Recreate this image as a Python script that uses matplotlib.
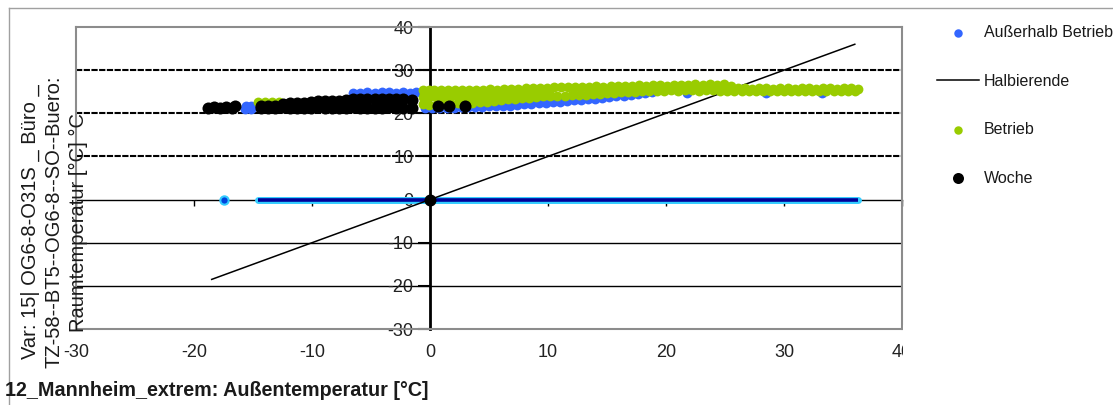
import matplotlib
matplotlib.use("Agg")
import matplotlib.pyplot as plt
from matplotlib.lines import Line2D
from matplotlib.patches import Rectangle

plt.rcParams['font.family'] = ['Liberation Sans', 'DejaVu Sans']
plt.rcParams['axes.unicode_minus'] = False

# ---------------- data ----------------
x_ticks = [-30, -20, -10, 0, 10, 20, 30, 40]
y_ticks = [-30, -20, -10, 0, 10, 20, 30, 40]
x_label = "12_Mannheim_extrem: Außentemperatur [°C]"
y_label = "Var: 15| OG6-8-O31S _ Büro _\nTZ-58--BT5--OG6-8--SO--Buero:\nRaumtemperatur [°C] °C"
labels = ["Außerhalb Betrieb", "Halbierende", "Betrieb", "Woche"]

# Außerhalb Betrieb (blue)
aussen_x = [-15.7, -15.2, -15.6, -15.2,
            -6.5, -5.9, -5.3, -4.7, -4.1, -3.5, -2.9, -2.3, -1.7, -1.2,
            -0.4, 0.2, 0.8, 1.4, 2.0, 2.6, 3.2, 3.8, 4.4, 5.0, 5.6, 6.2, 6.8, 7.4,
            8.0, 8.6, 9.2, 9.8, 10.4, 11.0, 11.6, 12.2, 12.8, 13.4, 14.0, 14.6,
            15.2, 15.8, 16.4, 17.0, 17.6, 18.2, 18.8,
            21.8, 28.5, 33.2]
aussen_y = [21.1, 21.0, 21.7, 21.7,
            24.8, 24.8, 24.9, 24.8, 24.9, 24.9, 24.8, 24.9, 24.8, 24.9,
            21.2, 21.2, 21.2, 21.3, 21.3, 21.4, 21.4, 21.5, 21.5, 21.6, 21.7, 21.7, 21.8, 21.9,
            22.1, 22.2, 22.3, 22.5, 22.6, 22.7, 22.9, 23.0, 23.1, 23.3, 23.4, 23.6,
            23.7, 23.9, 24.1, 24.3, 24.5, 24.7, 24.9,
            24.6, 24.6, 24.7]
# Außerhalb Betrieb values read as 0 (drawn as a thick run on the zero line)
aussen_zero_single_x = [-17.5]
aussen_zero_run_x = [-14.6, 36.3]

# Halbierende (bisector)
halb_x = [-18.5, 36.0]
halb_y = [-18.5, 36.0]

# Betrieb (green)
betrieb_x = [-14.6, -14.0, -13.4, -12.8,
             -0.6, -0.6, -0.6, -0.1, -0.1, -0.1,
             # upper edge
             0.3, 0.9, 1.5, 2.1, 2.7, 3.3, 3.9, 4.5, 5.1, 5.7, 6.3, 6.9, 7.5, 8.1, 8.7,
             9.3, 9.9, 10.5, 11.1, 11.7, 12.3, 12.9, 13.5, 14.1, 14.7, 15.3, 15.9, 16.5,
             17.1, 17.7, 18.3, 18.9, 19.5, 20.1, 20.7, 21.3, 21.9, 22.5, 23.1, 23.7, 24.3,
             24.9, 25.5, 26.1, 26.7, 27.3, 27.9, 28.5, 29.1, 29.7, 30.3, 30.9, 31.5, 32.1,
             32.7, 33.3, 33.9, 34.5, 35.1, 35.7, 36.3,
             # lower edge
             0.6, 1.2, 1.8, 2.4, 3.0, 3.6, 4.2, 4.8, 5.4, 6.0, 6.6, 7.2, 7.8, 8.4, 9.0,
             9.6, 10.2, 10.8, 11.4, 12.0, 12.6, 13.2, 13.8, 14.4, 15.0, 15.6, 16.2, 16.8,
             17.4, 18.0, 18.6, 19.2, 19.8, 20.4, 21.0, 21.6, 22.2, 22.8, 23.4, 24.0, 24.6,
             25.2, 25.8, 26.4, 27.0, 27.6, 28.2, 28.8, 29.4, 30.0, 30.6, 31.2, 31.8, 32.4,
             33.0, 33.6, 34.2, 34.8, 35.4, 36.0,
             # middle
             0.5, 1.1, 1.7, 2.3, 2.9, 3.5, 4.1, 4.7, 5.3, 5.9, 6.5, 7.1, 7.7, 8.3, 8.9,
             9.5, 10.1]
betrieb_y = [22.6, 22.7, 22.6, 22.6,
             25.4, 23.8, 22.1, 25.5, 23.7, 22.0,
             25.4, 25.4, 25.5, 25.4, 25.5, 25.4, 25.5, 25.5, 25.6, 25.5, 25.6, 25.7, 25.7, 25.8, 25.8,
             25.9, 25.9, 26.0, 26.0, 26.1, 26.0, 26.2, 26.2, 26.3, 26.2, 26.3, 26.4, 26.3,
             26.4, 26.5, 26.4, 26.5, 26.5, 26.4, 26.5, 26.6, 26.5, 26.7, 26.5, 26.7, 26.5,
             26.7, 26.4, 25.8, 25.8, 25.7, 25.8, 25.8, 25.7, 25.8, 25.8, 25.7, 25.8, 25.8,
             25.7, 25.8, 25.8, 25.7, 25.8, 25.8, 25.7,
             22.1, 22.1, 22.2, 22.3, 22.4, 22.5, 22.6, 22.7, 22.8, 23.0, 23.2, 23.3, 23.5, 23.6, 23.7,
             23.9, 24.0, 24.0, 24.1, 24.2, 24.3, 24.3, 24.4, 24.5, 24.6, 24.8, 24.9, 25.0,
             25.0, 25.1, 25.1, 25.2, 25.2, 25.3, 25.2, 25.3, 25.3, 25.2, 25.3, 25.3, 25.2,
             25.2, 25.2, 25.2, 25.2, 25.1, 25.2, 25.2, 25.1, 25.2, 25.2, 25.1, 25.2, 25.2,
             25.1, 25.2, 25.2, 25.1, 25.2, 25.2,
             23.7, 23.8, 23.8, 23.9, 23.9, 24.0, 24.0, 24.1, 24.2, 24.2, 24.4, 24.5, 24.6, 24.7, 24.8,
             24.9, 25.0]

# Woche (black)
woche_x = [-18.8, -18.3, -17.8, -17.3, -16.8, -16.5,
           -14.3, -13.7, -13.1, -12.5, -11.9, -11.3, -10.7, -10.1, -9.5, -8.9, -8.3,
           -7.7, -7.1, -6.5, -5.9, -5.3, -4.7, -4.1, -3.5, -2.9, -2.3, -1.5,
           -14.3, -13.7, -13.1, -12.5, -11.9, -11.3, -10.7, -10.1, -9.5, -8.9, -8.3,
           -7.7, -7.1, -6.5, -5.9, -5.3, -4.7, -4.1, -3.5, -2.9, -2.3, -1.5,
           0.7, 1.6, 3.0, 0.0]
woche_y = [21.3, 21.5, 21.2, 21.5, 21.3, 21.6,
           21.3, 21.2, 21.3, 21.4, 21.3, 21.2, 21.3, 21.3, 21.4, 21.2, 21.3,
           21.3, 21.2, 21.4, 21.3, 21.3, 21.2, 21.3, 21.4, 21.3, 21.2, 21.3,
           21.7, 21.8, 21.7, 22.2, 22.4, 22.5, 22.4, 22.6, 22.8, 22.9, 22.8,
           22.9, 23.0, 23.2, 23.2, 23.3, 23.2, 23.2, 23.3, 23.2, 23.3, 23.1,
           21.8, 21.7, 21.8, 0.0]

# ---------------- figure ----------------
W, H = 1113, 405
fig = plt.figure(figsize=(W / 100, H / 100), dpi=100)
fig.patch.set_facecolor('white')
ax = fig.add_axes([76 / W, 1 - 329 / H, (902 - 76) / W, (329 - 27) / H])
ax.set_xlim(x_ticks[0], x_ticks[-1])
ax.set_ylim(y_ticks[0], y_ticks[-1])

for s in ax.spines.values():
    s.set_color('#8c8c8c')
    s.set_linewidth(1.5)

tick_col = '#222222'
ax.set_xticks(x_ticks)
ax.set_xticklabels([str(v) for v in x_ticks])
ax.tick_params(axis='x', length=0, pad=11, labelsize=13, labelcolor=tick_col)
ax.set_yticks([])

# gridlines
for v in y_ticks[1:-1]:
    if v > 0:
        ax.axhline(v, color='black', lw=1.5, ls=(0, (3, 0.7)), zorder=-1)
    elif v < 0:
        ax.axhline(v, color='black', lw=1.0, zorder=-1)

# axes crossing at zero
x0 = (0 - x_ticks[0]) / (x_ticks[-1] - x_ticks[0])
y0 = (0 - y_ticks[0]) / (y_ticks[-1] - y_ticks[0])
secy = ax.secondary_yaxis(x0)
secy.set_yticks(y_ticks)
secy.set_yticklabels([str(v) for v in y_ticks])
secy.spines['left'].set_color('black')
secy.spines['left'].set_linewidth(2)
secy.tick_params(direction='out', length=9, width=1.5, pad=3, labelsize=13,
                 labelcolor=tick_col, color='black')

secx = ax.secondary_xaxis(y0)
secx.set_xticks(x_ticks)
secx.spines['bottom'].set_color('black')
secx.spines['bottom'].set_linewidth(1)
secx.tick_params(direction='out', length=4, width=1, labelbottom=False, color='black')

# zero-valued run of Außerhalb Betrieb
ax.plot(aussen_zero_run_x, [0] * len(aussen_zero_run_x), color='#33ccff', lw=5,
        solid_capstyle='round', zorder=1.5)
ax.plot(aussen_zero_run_x, [0] * len(aussen_zero_run_x), color='#000099', lw=2.6,
        solid_capstyle='butt', zorder=1.6)
ax.plot(aussen_zero_single_x, [0] * len(aussen_zero_single_x), 'o', ms=6,
        mfc='#0044dd', mec='#33ccff', mew=1.5, zorder=1.6)

h_blue = ax.scatter(aussen_x, aussen_y, s=50, color='#3366ff', linewidths=0, zorder=2)
h_line, = ax.plot(halb_x, halb_y, color='black', lw=1.1, zorder=2.5)
h_green = ax.scatter(betrieb_x, betrieb_y, s=50, color='#99cc00', linewidths=0, zorder=3)
h_black = ax.scatter(woche_x, woche_y, s=75, color='black', linewidths=0, zorder=4)

# labels
fig.text(5 / W, 1 - 390 / H, x_label, fontsize=14.2, fontweight='bold', color='#1a1a1a',
         ha='left', va='center')
fig.text(54 / W, 1 - 222 / H, y_label, fontsize=14.5, color='#1a1a1a', rotation=90,
         ha='center', va='center', multialignment='center', linespacing=1.33)

# legend
leg = fig.legend([h_blue, h_line, h_green, h_black], labels, loc='upper left',
                 bbox_to_anchor=(937 / W, 1 - 25 / H), bbox_transform=fig.transFigure,
                 frameon=False, fontsize=11.5, handlelength=2.6, handletextpad=0.35,
                 labelspacing=2.1, borderpad=0, borderaxespad=0, scatterpoints=1,
                 labelcolor='#1a1a1a')
leg.legend_handles[0].set_sizes([37])
leg.legend_handles[2].set_sizes([37])
leg.legend_handles[3].set_sizes([63])

# legend area clips the last x tick label
fig.add_artist(Rectangle((903 / W, 0), 1 - 903 / W, 80 / H, transform=fig.transFigure,
                         facecolor='white', edgecolor='none', zorder=5))
# outer chart frame
fig.add_artist(Line2D([9 / W, 9 / W], [0, 1 - 8 / H], transform=fig.transFigure,
                      color='#a0a0a0', lw=1))
fig.add_artist(Line2D([9 / W, 1], [1 - 8 / H, 1 - 8 / H], transform=fig.transFigure,
                      color='#a0a0a0', lw=1))

fig.savefig('out.png', dpi=100, facecolor='white')
